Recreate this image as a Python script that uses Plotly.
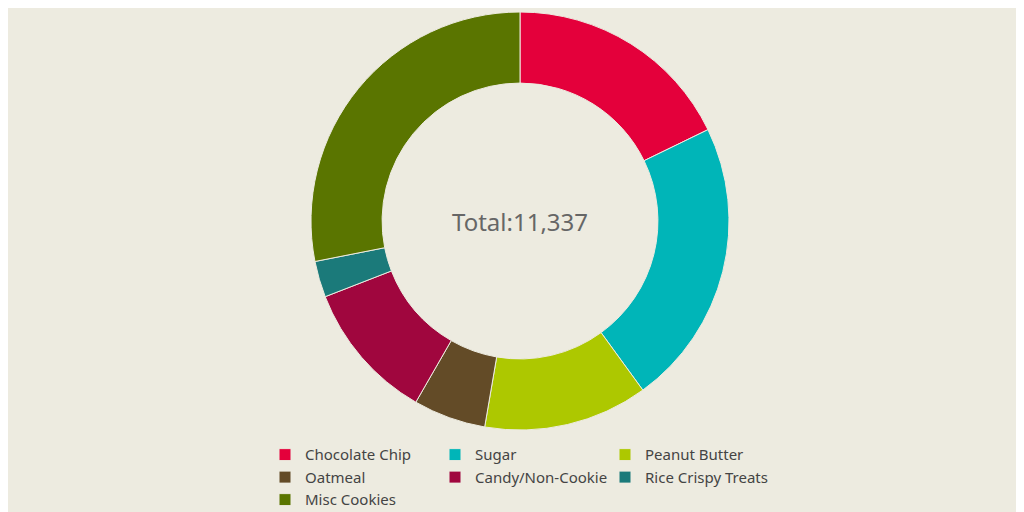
import plotly.graph_objects as go

labels = ["Chocolate Chip", "Sugar", "Peanut Butter", "Oatmeal",
          "Candy/Non-Cookie", "Rice Crispy Treats", "Misc Cookies"]
values = [2018, 2517, 1440, 635, 1224, 317, 3186]
colors = ["#E4003B", "#00B5B8", "#ADC800", "#634B27", "#A0063E", "#1B7A7A", "#5A7500"]

total = sum(values)

fig = go.Figure(go.Pie(
    labels=labels, values=values, hole=0.66, sort=False, direction="clockwise",
    rotation=0, marker=dict(colors=colors, line=dict(color="#EDEBE0", width=1)),
    textinfo="none", hoverinfo="label+value+percent",
))

fig.update_layout(
    width=1024, height=512,
    paper_bgcolor="#EDEBE0", plot_bgcolor="#EDEBE0",
    font=dict(family="Noto Sans", color="#444"),
    margin=dict(l=255, r=255, t=4, b=88),
    legend=dict(orientation="h", x=0.5, xanchor="center", y=-0.02, yanchor="top",
                font=dict(size=15), entrywidth=125, traceorder="normal"),
    annotations=[dict(text="Total:{:,}".format(total), x=0.5, y=0.5, xref="paper", yref="paper",
                      showarrow=False, font=dict(size=24, color="#666"))],
)

fig.write_html("out.html")
